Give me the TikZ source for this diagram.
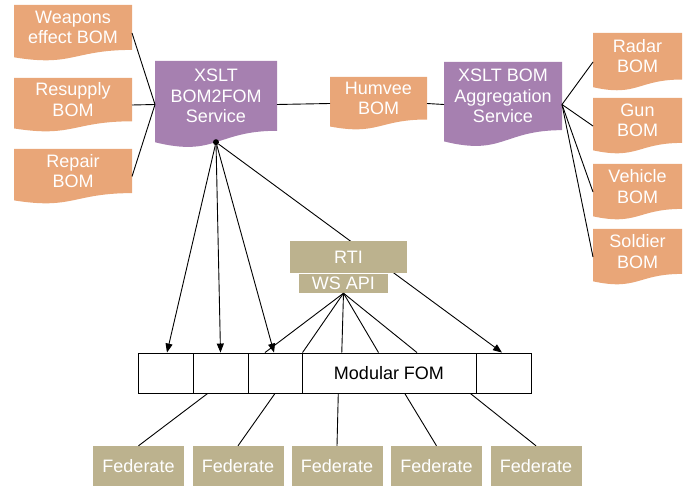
\documentclass[tikz,border=0pt]{standalone}
\usepackage{fontspec}
\setmainfont{Liberation Sans}
\usetikzlibrary{arrows.meta,calc}
\definecolor{bomfill}{HTML}{E9A678}
\definecolor{svcfill}{HTML}{A680B0}
\definecolor{rtifill}{HTML}{BCB28E}
\tikzset{
  lbl/.style={text=white, font=\fontsize{18}{20.5}\selectfont, align=center, inner sep=0pt},
  docframe/.style={inner sep=0pt, outer sep=0pt},
  link/.style={line width=0.9pt, black},
  arr/.style={link, -{Triangle[length=9pt,width=7pt]}},
  cell/.style={draw=black, line width=0.9pt, fill=white, minimum height=40pt, inner sep=0pt,
    text=black, font=\fontsize{18}{20.5}\selectfont},
  tanbox/.style={fill=rtifill, text=white, font=\fontsize{18}{20.5}\selectfont, inner sep=0pt},
  fedbox/.style={tanbox, minimum width=91pt, minimum height=40pt},
}
% document shape: #1 name, #2 left, #3 top, #4 width, #5 height, #6 fill, #7 text
\newcommand\docshape[7]{%
  \fill[#6] (#2,#3) -- ++(#4,0) -- ++(0,{0.802*#5})
    .. controls ({#2+0.5*#4},{#3+0.802*#5}) and ({#2+0.5*#4},{#3+1.1075*#5}) .. (#2,{#3+0.934*#5}) -- cycle;
  \node[docframe, minimum width=#4pt, minimum height=#5pt] (#1) at ({#2+#4/2},{#3+#5/2}) {};
  \node[lbl] (#1-text) at ({#2+#4/2},{#3+0.401*#5}) {#7};
}
\begin{document}
\begin{tikzpicture}[x=1pt,y=-1pt]
\useasboundingbox (0,0) rectangle (691,486);

% source BOMs on the left
\docshape{wpn}{14}{5}{118}{56}{bomfill}{Weapons\\effect BOM}
\docshape{sup}{14}{78}{118}{54}{bomfill}{Resupply\\BOM}
\docshape{rep}{14}{149}{118}{55}{bomfill}{Repair\\BOM}

% services and the aggregated BOM
\docshape{b2f}{155}{61}{122}{87}{svcfill}{XSLT\\BOM2FOM\\Service}
\docshape{hum}{330}{77}{97}{53}{bomfill}{Humvee\\BOM}
\docshape{agg}{444}{62}{118}{85}{svcfill}{XSLT BOM\\Aggregation\\Service}

% component BOMs on the right
\docshape{rad}{593}{33}{89}{58}{bomfill}{Radar\\BOM}
\docshape{gun}{593}{98}{89}{56}{bomfill}{Gun\\BOM}
\docshape{veh}{593}{164}{89}{56}{bomfill}{Vehicle\\BOM}
\docshape{sol}{593}{229}{89}{56}{bomfill}{Soldier\\BOM}

\draw[link] (wpn.east) -- (b2f.west);
\draw[link] (sup.east) -- (b2f.west);
\draw[link] (rep.east) -- (b2f.west);
\draw[link] (b2f.east) -- (hum.west);
\draw[link] (hum.east) -- (agg.west);
\foreach \t in {rad,gun,veh,sol} \draw[link] (agg.east) -- (\t.west);

% modular FOM strip
\node[cell, minimum width=55pt] (c1) at (165.5,373) {};
\node[cell, minimum width=55pt] (c2) at (220.5,373) {};
\node[cell, minimum width=54pt] (c3) at (275,373) {};
\node[cell, minimum width=174pt] (c4) at (389,373) {Modular FOM};
\node[cell, minimum width=55pt] (c5) at (503.5,373) {};

% BOM2FOM output
\node[circle, fill=black, inner sep=0pt, minimum size=6pt] (dot) at ([yshift=5.8pt]b2f.south) {};
\draw[arr] (dot) -- ([xshift=1.5pt]c1.north);
\draw[arr] (dot) -- (c2.north);
\draw[arr] (dot) -- ([xshift=-1pt]c3.north);
\draw[arr] (dot) -- ([xshift=-1.5pt]c5.north);

% RTI with its web service API
\node[tanbox, minimum width=117pt, minimum height=32pt] (rti) at (348.5,257) {RTI};
\node[tanbox, minimum width=89pt, minimum height=19pt] (ws) at (343.5,283.5) {WS API};
\draw[link] (ws.south) -- ([xshift=-10pt]c3.north);
\draw[link] (ws.south) -- ([xshift=1pt]c4.north west);
\draw[link] (ws.south) -- ($(c4.north west)!0.23!(c4.north east)$);
\draw[link] (ws.south) -- ($(c4.north west)!0.44!(c4.north east)$);
\draw[link] (ws.south) -- ($(c4.north west)!0.66!(c4.north east)$);

% federates
\node[fedbox] (f1) at (138.5,466) {Federate};
\node[fedbox] (f2) at (238,466) {Federate};
\node[fedbox] (f3) at (337,466) {Federate};
\node[fedbox] (f4) at (436.5,466) {Federate};
\node[fedbox] (f5) at (536,466) {Federate};
\draw[link] ($(c2.south west)!0.27!(c2.south east)$) -- (f1.north);
\draw[link] (c3.south) -- (f2.north);
\draw[link] ($(c4.south west)!0.21!(c4.south east)$) -- (f3.north);
\draw[link] ($(c4.south west)!0.59!(c4.south east)$) -- (f4.north);
\draw[link] ($(c4.south west)!0.965!(c4.south east)$) -- (f5.north);
\end{tikzpicture}
\end{document}
